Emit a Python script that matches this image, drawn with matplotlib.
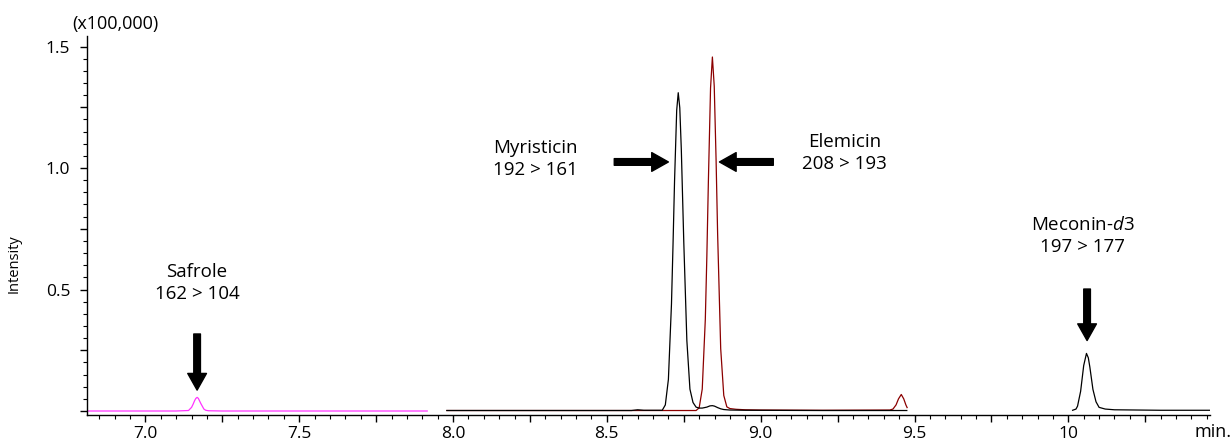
import matplotlib
matplotlib.use("Agg")
import matplotlib.pyplot as plt
from matplotlib.ticker import MultipleLocator, FuncFormatter

plt.rcParams['font.family'] = ['Open Sans', 'DejaVu Sans']
plt.rcParams['mathtext.fontset'] = 'custom'
plt.rcParams['mathtext.rm'] = 'Open Sans'
plt.rcParams['mathtext.it'] = 'Open Sans:italic'

# === Data (retention time in min, intensity in x100,000) ===
# segment 1: safrole trace (magenta)
safrole_t = [6.81, 7.00, 7.10, 7.14, 7.15, 7.155, 7.16, 7.164, 7.168, 7.172, 7.18,
             7.19, 7.196, 7.205, 7.25, 7.50, 7.70, 7.916]
safrole_i = [0.0, 0.0, 0.0, 0.002, 0.015, 0.028, 0.043, 0.052, 0.056, 0.052, 0.031,
             0.008, 0.003, 0.001, 0.0, 0.0, 0.0, 0.0]

# segment 2: myristicin trace (black)
myristicin_t = [7.98, 8.30, 8.58, 8.60, 8.62, 8.68, 8.69, 8.70, 8.71, 8.715, 8.72,
                8.727, 8.732, 8.737, 8.742, 8.75, 8.76, 8.77, 8.78, 8.79, 8.80,
                8.81, 8.825, 8.835, 8.843, 8.85, 8.86, 8.87, 8.88, 8.90, 8.95,
                9.20, 9.475]
myristicin_i = [0.002, 0.002, 0.002, 0.005, 0.003, 0.003, 0.025, 0.13, 0.44, 0.683, 0.947,
                1.238, 1.31, 1.248, 1.076, 0.696, 0.29, 0.09, 0.035, 0.016, 0.012,
                0.012, 0.016, 0.021, 0.022, 0.02, 0.014, 0.009, 0.006, 0.004, 0.003,
                0.002, 0.002]

# segment 2: elemicin trace (dark red)
elemicin_t = [7.98, 8.40, 8.79, 8.80, 8.81, 8.82, 8.825, 8.83, 8.837, 8.843, 8.849,
              8.855, 8.86, 8.87, 8.88, 8.89, 8.90, 8.92, 8.95, 9.00, 9.20, 9.42,
              9.43, 9.44, 9.448, 9.457, 9.465, 9.472, 9.476]
elemicin_i = [0.002, 0.002, 0.002, 0.013, 0.09, 0.377, 0.637, 0.947, 1.329, 1.457, 1.337,
              1.034, 0.73, 0.257, 0.064, 0.017, 0.01, 0.007, 0.005, 0.004, 0.003, 0.004,
              0.008, 0.025, 0.05, 0.068, 0.05, 0.025, 0.014]

# segment 3: meconin-d3 trace (black)
meconin_t = [10.014, 10.025, 10.03, 10.04, 10.05, 10.059, 10.065, 10.07, 10.08, 10.09,
             10.10, 10.12, 10.15, 10.30, 10.46]
meconin_i = [0.003, 0.008, 0.02, 0.081, 0.187, 0.237, 0.219, 0.181, 0.089, 0.038,
             0.015, 0.008, 0.005, 0.003, 0.003]

labels = ["Safrole\n162 > 104", "Myristicin\n192 > 161",
          "Elemicin\n208 > 193", "Meconin-$\\mathit{d}$3\n197 > 177"]

fig = plt.figure(figsize=(12.32, 4.45), dpi=100)
ax = fig.add_axes([0.0706, 0.0674, 0.9114, 0.852])

ax.plot(safrole_t, safrole_i, color='#ff33ff', lw=0.9)
ax.plot(elemicin_t, elemicin_i, color='#8b0000', lw=0.9)
ax.plot(myristicin_t, myristicin_i, color='black', lw=0.9)
ax.plot(meconin_t, meconin_i, color='black', lw=0.9)

ax.set_xlim(6.81, 10.46)
ax.set_ylim(-0.0165, 1.544)

for s in ['top', 'right']:
    ax.spines[s].set_visible(False)
for s in ['left', 'bottom']:
    ax.spines[s].set_linewidth(1.0)

ax.xaxis.set_major_locator(MultipleLocator(0.25))
ax.xaxis.set_minor_locator(MultipleLocator(0.05))
ax.yaxis.set_major_locator(MultipleLocator(0.25))
ax.yaxis.set_minor_locator(MultipleLocator(0.05))


def xfmt(v, pos):
    if abs(v * 2 - round(v * 2)) > 1e-6:
        return ''
    if abs(v - 10) < 1e-6:
        return '10'
    return '%.1f' % v


def yfmt(v, pos):
    if abs(v * 2 - round(v * 2)) > 1e-6 or abs(v) < 1e-6:
        return ''
    return '%.1f' % v


ax.xaxis.set_major_formatter(FuncFormatter(xfmt))
ax.yaxis.set_major_formatter(FuncFormatter(yfmt))
ax.tick_params(which='major', direction='out', length=5, width=1.0, labelsize=12.5)
ax.tick_params(which='minor', direction='out', length=3, width=0.8)
ax.tick_params(axis='x', pad=3)
ax.tick_params(axis='y', pad=7)

ax.set_ylabel('Intensity', fontsize=10.5)
ax.yaxis.set_label_coords(-0.058, 0.40)

fig.text(115 / 1232, 1 - 24 / 445, '(x100,000)', ha='center', va='center', fontsize=13)
fig.text(1213 / 1232, 1 - 432 / 445, 'min.', ha='center', va='center', fontsize=13)

# compound labels
kw = dict(ha='center', va='center', fontsize=13.5, linespacing=1.3)
ax.text(7.168, 0.527, labels[0], **kw)
ax.text(8.267, 1.037, labels[1], **kw)
ax.text(9.272, 1.062, labels[2], **kw)
ax.text(10.046, 0.72, labels[3], **kw)

# arrows
arw = dict(facecolor='black', edgecolor='black', width=4.8, headwidth=13.5,
           headlength=12, shrink=0)
ax.annotate('', xy=(7.168, 0.086), xytext=(7.168, 0.317), arrowprops=arw)
ax.annotate('', xy=(10.061, 0.29), xytext=(10.061, 0.502), arrowprops=arw)
ax.annotate('', xy=(8.70, 1.025), xytext=(8.524, 1.025), arrowprops=arw)
ax.annotate('', xy=(8.866, 1.025), xytext=(9.041, 1.025), arrowprops=arw)

fig.savefig('out.png', dpi=100)
